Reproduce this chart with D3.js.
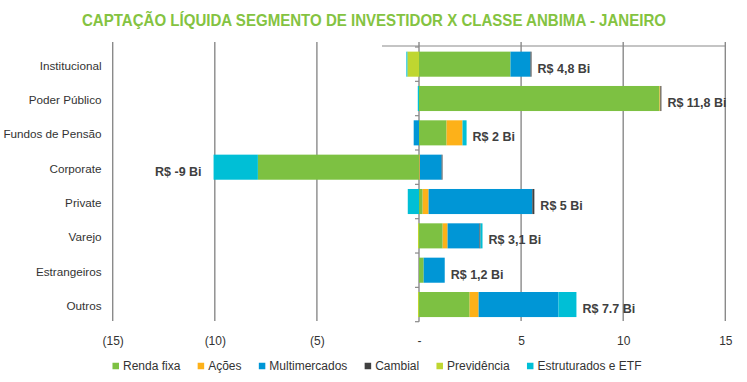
<!DOCTYPE html>
<html>
<head>
<meta charset="utf-8">
<script src="https://cdn.jsdelivr.net/npm/d3@7"></script>
<style>
  html, body { margin: 0; padding: 0; background: #fff; }
  svg { display: block; }
  text { font-family: "Liberation Sans", Arial, sans-serif; }
</style>
</head>
<body>
<svg id="chart" width="747" height="382"></svg>
<script>
// ---- data ----
const title = "CAPTAÇÃO LÍQUIDA SEGMENTO DE INVESTIDOR X CLASSE ANBIMA - JANEIRO";
const categories = ["Institucional", "Poder Público", "Fundos de Pensão", "Corporate", "Private", "Varejo", "Estrangeiros", "Outros"];
const seriesNames = ["Renda fixa", "Ações", "Multimercados", "Cambial", "Previdência", "Estruturados e ETF"];
const rendaFixa    = [4.48, 11.78, 1.35, -7.89, 0.18, 1.16, 0.23, 2.48];
const acoes        = [0.00,  0.04, 0.78,  0.04, 0.29, 0.24, 0.00, 0.44];
const multimercados= [0.98,  0.00, -0.26, 1.07, 5.08, 1.56, 1.03, 3.91];
const cambial      = [0.05,  0.05, 0.00,  0.04, 0.10, 0.05, 0.00, 0.00];
const previdencia  = [-0.57, 0.00, 0.00,  0.00, 0.00, -0.05, 0.00, -0.05];
const estruturados = [-0.05, -0.06, 0.20, -2.17, -0.55, 0.10, 0.00, 0.88];
const totalLabels  = ["R$ 4,8 Bi", "R$ 11,8 Bi", "R$ 2 Bi", "R$ -9 Bi", "R$ 5 Bi", "R$ 3,1 Bi", "R$ 1,2 Bi", "R$ 7.7 Bi"];
const tickValues   = [-15, -10, -5, 0, 5, 10, 15];
const tickLabels   = ["(15)", "(10)", "(5)", "-", "5", "10", "15"];
const seriesColors = ["#7DC142", "#FDB119", "#0096D6", "#404040", "#BFD630", "#00BFD6"];

// ---- build table ----
const seriesValues = [rendaFixa, acoes, multimercados, cambial, previdencia, estruturados];
const table = categories.map((c, i) => {
  const row = { cat: c };
  seriesNames.forEach((s, j) => row[s] = seriesValues[j][i]);
  return row;
});

const svg = d3.select("#chart");
const plotTop = 47, plotBottom = 321.7;
const x = d3.scaleLinear().domain([-15, 15]).range([112.7, 725.3]);
const y = d3.scaleBand().domain(categories).range([plotTop, plotBottom])
  .paddingInner(0.27).paddingOuter(0.135);
const color = d3.scaleOrdinal().domain(seriesNames).range(seriesColors);

// title
svg.append("text")
  .attr("x", 82).attr("y", 26)
  .attr("textLength", 584).attr("lengthAdjust", "spacingAndGlyphs")
  .style("font-size", "16.5px").style("font-weight", "bold")
  .attr("fill", "#84C341")
  .text(title);

// gridlines
svg.append("g").selectAll("line").data(tickValues.filter(v => v !== 0)).join("line")
  .attr("x1", d => x(d)).attr("x2", d => x(d))
  .attr("y1", 42).attr("y2", 321)
  .attr("stroke", "#8A8A8A").attr("stroke-width", 1.4);

// top line
svg.append("line")
  .attr("x1", 382).attr("x2", x(15)).attr("y1", plotTop - 1).attr("y2", plotTop - 1)
  .attr("stroke", "#8A8A8A").attr("stroke-width", 1.2);

// zero axis with ticks at category boundaries
const boundaries = categories.map(c => y(c) - y.step() * y.paddingInner() / 2);
boundaries[0] = plotTop;
boundaries.push(plotBottom);
svg.append("line")
  .attr("x1", x(0)).attr("x2", x(0)).attr("y1", 42).attr("y2", plotBottom)
  .attr("stroke", "#8A8A8A").attr("stroke-width", 1.4);
svg.append("g").selectAll("line").data(boundaries).join("line")
  .attr("x1", x(0) - 4).attr("x2", x(0)).attr("y1", d => d).attr("y2", d => d)
  .attr("stroke", "#8A8A8A").attr("stroke-width", 1.2);

// stacked bars
const stack = d3.stack().keys(seriesNames).offset(d3.stackOffsetDiverging);
const stacked = stack(table);
svg.append("g").selectAll("g").data(stacked).join("g")
  .attr("fill", d => color(d.key))
  .selectAll("rect").data(d => d).join("rect")
  .attr("x", d => x(Math.min(d[0], d[1])))
  .attr("width", d => Math.abs(x(d[1]) - x(d[0])))
  .attr("y", d => y(d.data.cat))
  .attr("height", y.bandwidth());

// total labels
const ends = categories.map((c, i) => {
  let pos = 0, neg = 0, tot = 0;
  seriesValues.forEach(arr => { const v = arr[i]; tot += v; if (v > 0) pos += v; else neg += v; });
  return { pos, neg, tot };
});
svg.append("g").selectAll("text").data(categories).join("text")
  .attr("x", (c, i) => ends[i].tot >= 0 ? x(ends[i].pos) + 6 : x(ends[i].neg) - 12)
  .attr("y", c => y(c) + y.bandwidth() / 2 + 4)
  .attr("dy", "0.35em")
  .attr("text-anchor", (c, i) => ends[i].tot >= 0 ? "start" : "end")
  .style("font-size", "12.5px").style("font-weight", "bold")
  .attr("fill", "#404040")
  .text((c, i) => totalLabels[i]);

// category labels
svg.append("g").selectAll("text").data(categories).join("text")
  .attr("x", 101.5)
  .attr("y", c => y(c) + y.bandwidth() / 2 + 1.5)
  .attr("dy", "0.35em")
  .attr("text-anchor", "end")
  .style("font-size", "11.7px")
  .attr("fill", "#333")
  .text(c => c);

// x axis labels
const xAxis = d3.axisBottom(x).tickValues(tickValues)
  .tickFormat((d, i) => tickLabels[i]).tickSize(0).tickPadding(0);
const gx = svg.append("g").attr("transform", "translate(0,336)").call(xAxis);
gx.select(".domain").remove();
gx.selectAll("text").style("font-size", "12px")
  .style("font-family", "'Liberation Sans', Arial, sans-serif").attr("fill", "#333");

// legend
const legend = svg.append("g");
const items = legend.selectAll("g").data(seriesNames).join("g");
items.append("rect").attr("width", 6.5).attr("height", 6.5).attr("y", -3.25)
  .attr("fill", d => color(d));
items.append("text").attr("x", 10.5).attr("dy", "0.35em")
  .style("font-size", "12px").attr("fill", "#333").text(d => d);
let cursor = 0;
const offsets = [];
items.each(function() {
  offsets.push(cursor);
  cursor += 10.5 + d3.select(this).select("text").node().getComputedTextLength() + 17.3;
});
const legendWidth = cursor - 17.3;
const legendStart = 377 - legendWidth / 2;
items.attr("transform", (d, i) => `translate(${legendStart + offsets[i]},366)`);
</script>
</body>
</html>
